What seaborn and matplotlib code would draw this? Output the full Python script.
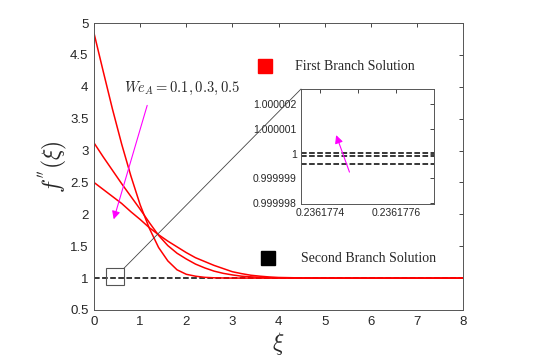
import matplotlib
matplotlib.use('Agg')
import matplotlib.pyplot as plt
import seaborn as sns
import pandas as pd
from matplotlib.lines import Line2D
from matplotlib.patches import Rectangle, ConnectionPatch
from matplotlib.ticker import FixedLocator, FormatStrFormatter

# xi grid for the first branch curves
xi = [0, 0.2, 0.4, 0.6, 0.8, 1.0, 1.2, 1.4, 1.6, 1.8, 2.0, 2.2, 2.4, 2.6, 2.8,
      3.0, 3.2, 3.4, 3.6, 3.8, 4.0, 4.5, 5.0, 6.0, 7.0, 8.0]
# first branch, We_A = 0.1, 0.3, 0.5
first_a = [4.84, 4.24, 3.65, 3.10, 2.60, 2.15, 1.78, 1.48, 1.27, 1.13, 1.06, 1.03,
           1.012, 1.005, 1.002, 1.0, 1.0, 1.0, 1.0, 1.0, 1.0, 1.0, 1.0, 1.0, 1.0, 1.0]
first_b = [3.12, 2.90, 2.69, 2.48, 2.28, 2.08, 1.87, 1.67, 1.51, 1.39, 1.30, 1.22,
           1.16, 1.11, 1.075, 1.05, 1.03, 1.02, 1.012, 1.006, 1.003, 1.0, 1.0, 1.0, 1.0, 1.0]
first_c = [2.50, 2.39, 2.28, 2.17, 2.04, 1.92, 1.79, 1.68, 1.58, 1.49, 1.40, 1.32,
           1.26, 1.20, 1.15, 1.10, 1.07, 1.045, 1.03, 1.018, 1.01, 1.003, 1.001, 1.0, 1.0, 1.0]

# second branch (flat at 1 in the main view)
second_x = [0, 8]
second_y = [1.0, 1.0]

# zoomed second branch values in the inset
inset_x = [0.23617735, 0.2361777]
inset_levels = [1.00000003, 0.9999999, 0.9999996]
inset_xticks = [0.2361774, 0.2361775, 0.2361776]
inset_xlabels = ['0.2361774', '', '0.2361776']
inset_yticks = [0.999998, 0.999999, 1.0, 1.000001, 1.000002]

df = pd.DataFrame({'xi': xi * 3,
                   'f2': first_a + first_b + first_c,
                   'case': ['a'] * len(xi) + ['b'] * len(xi) + ['c'] * len(xi)})

sns.set_style('white')
plt.rcParams['font.family'] = ['Liberation Sans', 'DejaVu Sans']
plt.rcParams['mathtext.fontset'] = 'cm'

grey = '#262626'
fig = plt.figure(figsize=(5.36, 3.6), dpi=100)
ax = fig.add_axes([0.1754, 0.1389, 0.6884, 0.7972])

ax.plot(second_x, second_y, color='black', ls='--', lw=1.1, zorder=1)
sns.lineplot(data=df, x='xi', y='f2', units='case', estimator=None,
             color='red', lw=1.1, sort=False, ax=ax, zorder=2)

ax.set_xlim(0, 8)
ax.set_ylim(0.5, 5)
ax.set_xticks(range(0, 9))
ax.set_yticks([0.5, 1, 1.5, 2, 2.5, 3, 3.5, 4, 4.5, 5])
ax.yaxis.set_major_formatter(FormatStrFormatter('%g'))
ax.set_xlabel(r'$\xi$', fontsize=17, color=grey, labelpad=2)
ax.set_ylabel(r"$f^{''}(\xi)$", fontsize=17, color=grey, labelpad=-1)
ax.tick_params(direction='in', length=3, width=0.6, colors=grey, labelsize=9.5,
               top=True, right=True, pad=4)
for s in ax.spines.values():
    s.set_color('#555555')
    s.set_linewidth(0.7)

# zoom box
ax.add_patch(Rectangle((0.27, 0.893), 0.38, 0.262, fill=False, ec='#555555', lw=0.8))

ax.text(0.65, 3.98, r'$We_A=0.1,0.3,0.5$', fontsize=10.5, va='center', ha='left')
ax.annotate('', xy=(0.41, 1.88), xytext=(1.17, 3.75),
            arrowprops=dict(arrowstyle='-|>', color='magenta', lw=0.8,
                            mutation_scale=12))

serif = {'family': 'Liberation Serif', 'size': 10}
leg1 = ax.legend(handles=[Line2D([], [], marker='s', color='red', ls='none', markersize=10)],
                 labels=['First Branch Solution'], loc='center left',
                 bbox_to_anchor=(0.425, 0.847), frameon=False, prop=serif,
                 handletextpad=1.2, borderpad=0, borderaxespad=0)
ax.add_artist(leg1)
ax.legend(handles=[Line2D([], [], marker='s', color='black', ls='none', markersize=10)],
          labels=['Second Branch Solution'], loc='center left',
          bbox_to_anchor=(0.433, 0.178), frameon=False, prop=serif,
          handletextpad=1.4, borderpad=0, borderaxespad=0)

# inset
ins = fig.add_axes([0.5616, 0.4333, 0.2481, 0.3194])
for lv in inset_levels:
    ins.plot(inset_x, [lv, lv], color='black', ls='--', lw=1.1)
ins.set_xlim(inset_x[0], inset_x[1])
ins.set_ylim(0.99999797, 1.0000026)
ins.xaxis.set_major_locator(FixedLocator(inset_xticks))
ins.set_xticklabels(inset_xlabels)
ins.yaxis.set_major_locator(FixedLocator(inset_yticks))
ins.set_yticklabels(['%.7g' % v for v in inset_yticks])
ins.tick_params(direction='in', length=3, width=0.6, colors=grey, labelsize=7.5,
                top=True, right=True, pad=3)
for s in ins.spines.values():
    s.set_color('#555555')
    s.set_linewidth(0.7)
ins.annotate('', xy=(0.23617744, 1.00000085), xytext=(0.23617748, 0.99999915),
             arrowprops=dict(arrowstyle='-|>', color='magenta', lw=0.8,
                             mutation_scale=12))

con = ConnectionPatch(xyA=(0.65, 1.155), coordsA=ax.transData,
                      xyB=(0, 1), coordsB=ins.transAxes,
                      color='#444444', lw=0.6)
fig.add_artist(con)

fig.savefig('out.png', dpi=100)
